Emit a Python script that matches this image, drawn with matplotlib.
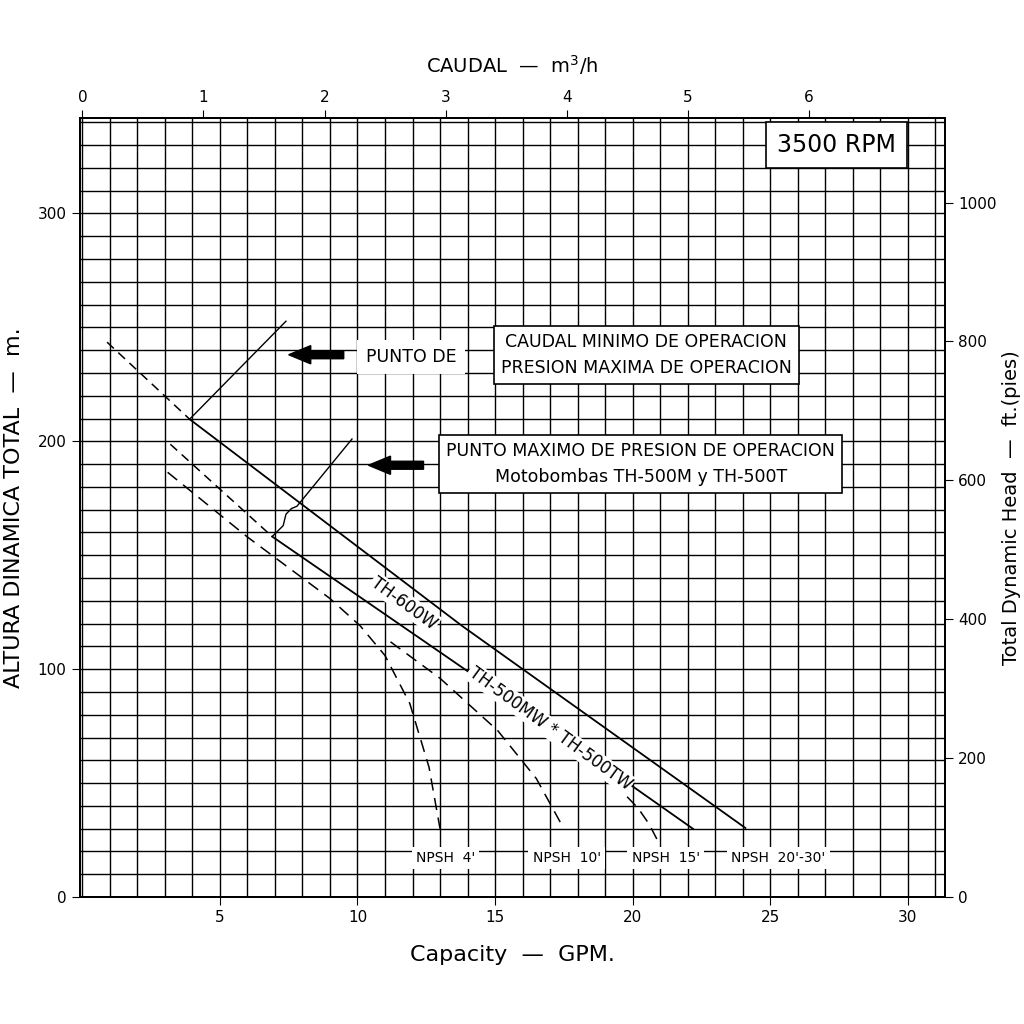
import numpy as np
import matplotlib.pyplot as plt
from matplotlib.patches import FancyArrow

GPM_PER_M3H = 4.403
FT_PER_M = 3.281

# curves, GPM vs metres
th600_dash_x = [0.9, 3.9]
th600_dash_y = [243.5, 209.7]
th600_x = [3.9, 13.8, 24.1]
th600_y = [209.7, 119, 30.3]

th500_dash_x = [3.2, 6.9]
th500_dash_y = [198.7, 158.2]
th500_x = [6.9, 16.3, 22.2]
th500_y = [158.2, 80, 29.9]

npsh4_x = [3.1, 6.0, 9.0, 10.1, 11.0, 11.9, 12.6, 13.0]
npsh4_y = [186.4, 158, 131, 119, 106, 85, 57, 30]
npsh10_x = [11.2, 13.0, 15.1, 16.5, 17.5]
npsh10_y = [112, 96, 73, 52, 30]
npsh15_x = [19.8, 20.2, 20.6, 20.9]
npsh15_y = [44, 39, 32, 25]

npsh_labels = ["NPSH  4'", "NPSH  10'", "NPSH  15'", "NPSH  20'-30'"]
npsh_label_x = [13.2, 17.6, 21.2, 25.3]

fig = plt.figure(figsize=(10.24, 10.24), dpi=100)
ax = fig.add_axes([0.078, 0.124, 0.845, 0.761])
ax.set_xlim(-0.09, 31.36)
ax.set_ylim(0, 342)

for gx in range(0, 32):
    ax.axvline(gx, color='k', lw=1.0, zorder=0)
for gy in range(0, 350, 10):
    ax.axhline(gy, color='k', lw=1.0, zorder=0)

ax.plot(th600_dash_x, th600_dash_y, 'k--', lw=1.1, dashes=(6, 4))
ax.plot(th600_x, th600_y, 'k-', lw=1.3)
ax.plot(th500_dash_x, th500_dash_y, 'k--', lw=1.1, dashes=(6, 4))
ax.plot(th500_x, th500_y, 'k-', lw=1.3)
ax.plot(npsh4_x, npsh4_y, 'k--', lw=1.1, dashes=(8, 5))
ax.plot(npsh10_x, npsh10_y, 'k--', lw=1.1, dashes=(8, 5))
ax.plot(npsh15_x, npsh15_y, 'k--', lw=1.1, dashes=(8, 5))

# leader lines
ax.plot([3.9, 7.4], [209.7, 252.7], 'k-', lw=1.0)
ax.plot([6.9, 7.3, 7.4, 7.6, 7.8, 9.8], [158.2, 163, 168, 170.5, 171.5, 201], 'k-', lw=1.0)

# arrows
ax.add_patch(FancyArrow(9.5, 238, -2.0, 0, width=3.5, head_width=8, head_length=0.8,
                        color='k', length_includes_head=True, zorder=4))
ax.add_patch(FancyArrow(12.4, 189.5, -2.0, 0, width=3.5, head_width=8, head_length=0.8,
                        color='k', length_includes_head=True, zorder=4))

ax.text(10.3, 237, 'PUNTO DE', fontsize=12.5, ha='left', va='center',
        bbox=dict(fc='white', ec='none', pad=6))
ax.text(20.5, 238, 'CAUDAL MINIMO DE OPERACION\nPRESION MAXIMA DE OPERACION',
        fontsize=12.5, ha='center', va='center', linespacing=1.6,
        bbox=dict(fc='white', ec='k', lw=1.2, pad=5))
ax.text(20.3, 190, 'PUNTO MAXIMO DE PRESION DE OPERACION\nMotobombas TH-500M y TH-500T',
        fontsize=12.5, ha='center', va='center', linespacing=1.6,
        bbox=dict(fc='white', ec='k', lw=1.2, pad=5))
ax.text(27.4, 330, '3500 RPM', fontsize=17, ha='center', va='center',
        bbox=dict(fc='white', ec='k', lw=1.2, pad=8))

ax.text(11.7, 129, 'TH-600W', fontsize=12, rotation=-36, ha='center', va='center',
        bbox=dict(fc='white', ec='none', pad=1))
ax.text(17.0, 74, 'TH-500MW * TH-500TW', fontsize=12, rotation=-36, ha='center',
        va='center', bbox=dict(fc='white', ec='none', pad=1))

for lab, lx in zip(npsh_labels, npsh_label_x):
    ax.text(lx, 17, lab, fontsize=10, ha='center', va='center',
            bbox=dict(fc='white', ec='none', pad=3))

ax.set_xticks([5, 10, 15, 20, 25, 30])
ax.set_yticks([0, 100, 200, 300])
ax.tick_params(labelsize=11, length=6, direction='out')
ax.set_xlabel('Capacity  —  GPM.', fontsize=16, labelpad=14)
ax.set_ylabel('ALTURA DINAMICA TOTAL  —  m.', fontsize=16, labelpad=10)

top = ax.twiny()
top.set_xlim(ax.get_xlim()[0] / GPM_PER_M3H, ax.get_xlim()[1] / GPM_PER_M3H)
top.set_xticks([0, 1, 2, 3, 4, 5, 6])
top.tick_params(labelsize=11, length=6)
top.set_xlabel('CAUDAL  —  m$^3$/h', fontsize=14, labelpad=12)

right = ax.twinx()
right.set_ylim(0, 342 * FT_PER_M)
right.set_yticks([0, 200, 400, 600, 800, 1000])
right.tick_params(labelsize=11, length=6)
right.set_ylabel('Total Dynamic Head  —  ft.(pies)', fontsize=14, labelpad=4)

for a in (ax, top, right):
    for s in a.spines.values():
        s.set_linewidth(1.2)

fig.savefig('out.png', dpi=100)
